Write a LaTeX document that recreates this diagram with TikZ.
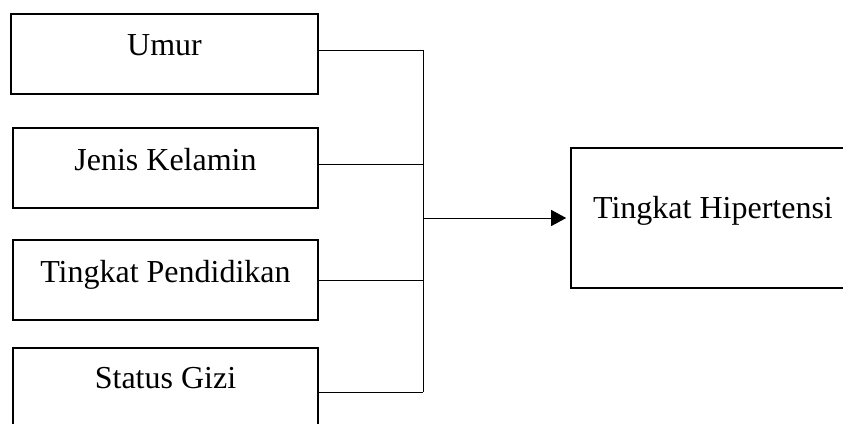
\documentclass[tikz,border=0pt]{standalone}
\usepackage{fontspec}
\setmainfont{Liberation Serif}
\usetikzlibrary{arrows.meta}
\begin{document}
\begin{tikzpicture}[x=1pt,y=-1pt,
  box/.style={draw, line width=1.6pt, rectangle, inner sep=0pt},
  lbl/.style={anchor=base, font=\fontsize{32}{38}\selectfont, inner sep=0pt},
  link/.style={line width=0.9pt}]
\useasboundingbox (0,0) rectangle (843,423);
\begin{scope}
  \clip (0,0) rectangle (843,423);
  % factor boxes
  \node[box, minimum width=307pt, minimum height=80pt] (umur) at (164.5,54) {};
  \node[box, minimum width=305pt, minimum height=80pt] (jk) at (165.5,168) {};
  \node[box, minimum width=305pt, minimum height=80pt] (tp) at (165.5,280) {};
  \node[box, minimum width=305pt, minimum height=92pt] (sg) at (165.5,394) {};
  % outcome box
  \node[box, minimum width=300pt, minimum height=140pt] (hip) at (721,218) {};
\end{scope}
% labels
\node[lbl] (tumur) at (164.5,55) {Umur};
\node[lbl] (tjk) at (165.5,170) {Jenis Kelamin};
\node[lbl] (ttp) at (165.5,282) {Tingkat Pendidikan};
\node[lbl] (tsg) at (165.5,388) {Status Gizi};
\node[lbl] (thip) at (713,218) {Tingkat Hipertensi};
% bus points
\coordinate (b1) at (423,50);
\coordinate (b2) at (423,164);
\coordinate (b3) at (423,280);
\coordinate (b4) at (423,392);
\coordinate (bm) at (423,218);
% connectors
\draw[link] (umur.east |- b1) -- (b1);
\draw[link] (jk.east |- b2) -- (b2);
\draw[link] (tp.east |- b3) -- (b3);
\draw[link] (sg.east |- b4) -- (b4);
\draw[link] (b1) -- (b4);
\draw[link, -{Triangle[length=15pt, width=16pt]}] (bm) -- ([xshift=-4pt]hip.west);
\end{tikzpicture}
\end{document}
